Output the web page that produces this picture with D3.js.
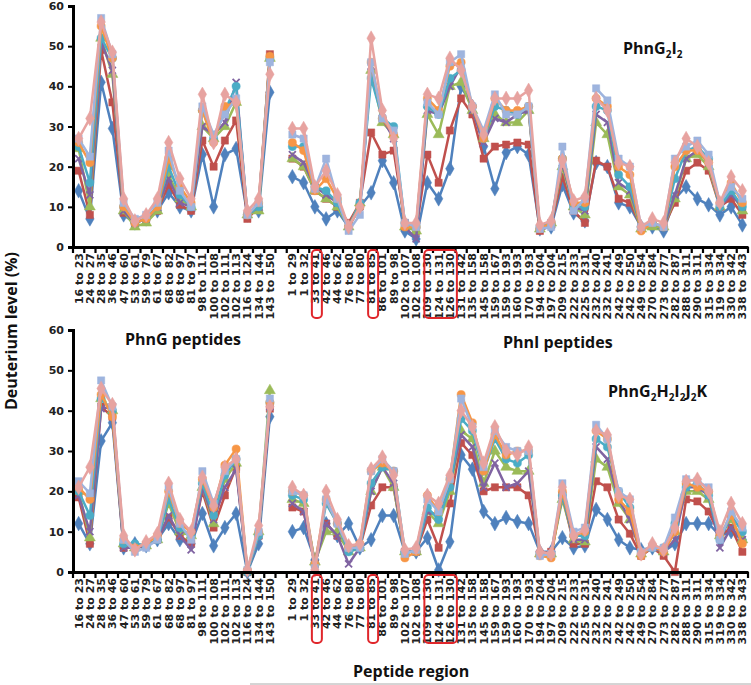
<!DOCTYPE html>
<html>
<head>
<meta charset="utf-8">
<script src="https://cdn.jsdelivr.net/npm/d3@7"></script>
<style>
  html, body { margin: 0; padding: 0; background: #fff; }
  svg { display: block; }
</style>
</head>
<body>
<svg id="chart" width="751" height="685"></svg>
<script>
// ---------------- DATA ----------------
const catsG = ["16 to 23","24 to 27","28 to 35","36 to 46","47 to 60","53 to 61","59 to 79","61 to 67","68 to 82","68 to 97","81 to 97","98 to 111","100 to 108","102 to 111","102 to 113","116 to 124","134 to 144","143 to 150"];
const catsI = ["1 to 29","1 to 32","33 to 41","42 to 46","44 to 62","76 to 80","77 to 80","81 to 85","86 to 101","89 to 98","102 to 107","102 to 108","109 to 130","124 to 131","126 to 130","131 to 142","135 to 158","145 to 158","159 to 167","159 to 193","160 to 193","170 to 193","194 to 204","197 to 204","209 to 215","222 to 233","225 to 231","232 to 240","232 to 241","242 to 249","242 to 250","249 to 254","270 to 284","273 to 277","282 to 287","288 to 311","290 to 311","315 to 334","319 to 334","330 to 342","338 to 343"];
const yTicks = [0, 10, 20, 30, 40, 50, 60];
const highlighted = [["33 to 41"], ["81 to 85"], ["109 to 130","124 to 131","126 to 130"]];

// Top panel: PhnG2I2 (PhnG part, PhnI part)
const topBlueG   = [14, 7, 41, 29.5, 8, 6, 7, 9, 13.5, 10, 9, 23, 10, 23, 24.5, 8, 9, 38.5];
const topRedG    = [19, 8, 49, 36, 8.5, 6, 7, 9, 15.5, 10.5, 9, 26.5, 20, 26.5, 31.5, 7, 10, 48];
const topGreenG  = [24.5, 10, 52, 43, 9, 5, 6, 9, 18, 12, 10, 30, 27, 30, 36, 8, 9, 47];
const topPurpleG = [22, 13, 51, 44, 9, 6, 7, 10, 17, 11, 10, 30, 28, 31, 41, 8, 10, 47];
const topTealG   = [25, 16, 52, 47, 10, 6, 7, 10, 20, 13, 10, 34, 27, 34, 40, 8, 10, 47];
const topOrangeG = [26, 21, 55, 47, 10, 6, 7, 10, 22, 15, 11, 34, 26, 35, 36, 8, 11, 47.5];
const topLBlueG  = [27, 22.5, 57, 48, 11, 7, 8, 11, 24, 14, 10, 35, 28, 33, 37, 8, 11, 46];
const topPinkG   = [27, 32, 56, 48.5, 12, 6.5, 8, 12, 26, 17, 12, 38, 26, 38, 36, 9, 12, 43];

const topBlueI   = [17.5, 16, 10, 7, 9, 5, 10, 13.5, 21.5, 16, 4, 2, 16, 12, 19.5, 40, 35, 25, 14.5, 23.5, 25, 23, 4.5, 5, 15.5, 8.5, 6.5, 21, 20, 11, 10, 5, 5, 4, 12, 15, 12, 10.5, 8, 10, 5.5];
const topRedI    = [22, 20, 14, 12, 10, 6, 11, 28.5, 23, 24, 6, 4, 23, 16, 29, 37, 33, 22, 25, 25.5, 26, 25.5, 4, 5.5, 17.5, 9, 6, 21.5, 20, 12, 11, 5, 5.5, 5, 11, 19, 21, 19, 10, 12, 8];
const topGreenI  = [22, 20, 14, 12, 10, 5, 11, 44, 31, 28, 5, 4, 33, 28, 40, 41, 34, 27, 33, 31, 31, 34, 4.5, 6, 20, 10, 8, 31, 28, 15, 13, 4.5, 5, 5, 12, 22, 23, 20, 10, 14, 9];
const topPurpleI = [23, 21, 15, 13, 11, 5, 10, 45, 32, 27, 5, 2, 34, 33, 40, 45, 34, 26, 32, 31, 33, 34, 4.5, 6, 21, 10, 9, 33, 31, 16, 14, 5, 6, 5, 13, 22, 24, 21, 10, 13, 10];
const topTealI   = [25, 25, 15, 14, 11, 5, 11, 42, 32, 30, 6, 5, 35, 33, 42, 44, 35, 27, 35, 34, 33, 35, 5, 6, 22, 10, 10, 35, 34, 18, 15, 5, 6, 5, 17, 24, 25, 22, 10, 14, 10];
const topOrangeI = [26, 24, 14, 17, 12, 5, 10, 46, 32, 28, 5, 5, 37, 34, 45, 46, 35, 27, 37, 34, 34, 35, 4.5, 6, 22, 11, 11, 37, 35, 20, 18, 4, 6, 5, 20, 24, 24, 21, 11, 16, 11];
const topLBlueI  = [28, 27, 14.5, 22, 12, 4, 8, 46, 32, 29, 6, 5, 36, 33, 46, 48, 35, 29, 38, 33, 33, 35, 4.5, 5, 25, 9, 12, 39.5, 36.5, 22, 20, 5, 6, 5, 22, 25, 26.5, 23, 11, 15, 12];
const topPinkI   = [29.5, 29.5, 15, 19, 13, 5, 10, 52, 34, 27, 6, 6, 38, 37, 47, 44, 35, 28, 37, 37, 37, 39, 5.5, 6.5, 21.5, 11.5, 12.5, 37, 34, 21, 20, 5, 7, 6, 21, 27, 25, 21, 11, 17.5, 14];

// Bottom panel: PhnG2H2I2J2K
const botBlueG   = [12, 7, 32.5, 37, 6, 7, 6.5, 8, 12, 8, 7, 14.5, 6.5, 11, 14.5, 0, 7, 38.5];
const botRedG    = [18.5, 7, 41, 38.5, 6, 6, 6.5, 8, 13.5, 9, 7, 20, 11, 19, 26, 0, 9, 40.5];
const botGreenG  = [20, 8.5, 43, 40, 7, 6, 6.5, 8, 17, 10, 9, 21, 12, 23, 27, 0, 10, 45];
const botPurpleG = [19, 10, 40.5, 41, 6, 6, 6.5, 8, 14, 9, 5.5, 21, 13, 21, 25.5, 0, 9, 41];
const botTealG   = [20, 14, 43, 40, 7, 7, 6.5, 8, 18, 11, 9, 22, 14, 24, 28, 0, 9, 42];
const botOrangeG = [21, 18, 44, 38.5, 8, 6, 7, 9, 20, 12, 10, 23, 16, 26.5, 30.5, 0.5, 10, 42];
const botLBlueG  = [22.5, 19.5, 47.5, 41, 8, 5, 6, 8, 21, 12, 8, 25, 17, 25, 28, 0.5, 10, 43];
const botPinkG   = [21, 26, 45.5, 41.5, 9, 5.5, 7.5, 9.5, 22, 13, 10, 23.5, 16.5, 26, 28, 0.5, 11.5, 41];

const botBlueI   = [10, 11, 3, 12, 9, 12, 6, 8, 14, 14, 5, 5, 8.5, 0.5, 7.5, 29, 25.5, 15, 12, 13.5, 12.5, 12, 5, 5, 8.5, 6, 6.5, 15.5, 13, 8, 6, 5.5, 6, 5, 7, 12, 12, 12, 9, 10, 8];
const botRedI    = [16, 15, 2, 12, 9, 6, 6, 16.5, 21, 21, 5, 5, 13, 6, 17, 32, 29, 20, 21, 21, 21, 19, 4.5, 5, 19, 7, 7, 22.5, 21, 13, 9.5, 4, 6, 4, 0, 18, 17.5, 15, 9, 11, 5];
const botGreenI  = [18, 17, 2.5, 10, 10, 5, 6, 20, 26, 21, 5, 5, 15, 12, 20, 35, 33, 22, 30, 26, 25, 25, 4.5, 4.5, 18, 8, 7.5, 28, 26, 17, 13, 4.5, 6, 5, 10, 20, 20, 18, 9, 13, 8];
const botPurpleI = [17, 15, 2, 12, 9, 2, 6, 20, 26, 22, 5, 5, 15, 14, 22, 34, 31, 21, 27, 21, 22, 25, 4.5, 4.5, 19, 8, 8, 31, 28, 18, 13, 4.5, 6, 5, 8, 21, 21, 19, 6, 11, 8];
const botTealI   = [19, 18, 2, 17, 12, 5, 6, 22, 26, 25, 5, 5, 16, 13, 21, 38, 35, 25, 33, 28, 27, 29, 4.5, 4.5, 19, 9, 9, 33, 31, 20, 16, 5, 6, 6, 12, 21, 22, 19, 8, 14, 10];
const botOrangeI = [20, 19, 2, 18, 12, 6, 7, 25, 27, 25, 3.5, 5, 19, 15, 23, 44, 37, 25, 34, 29, 30, 30, 4, 3.5, 20, 9, 10, 35, 33, 18, 15, 4, 6.5, 5, 10, 22, 21, 20, 9, 14, 7];
const botLBlueI  = [20, 19, 1, 18, 12, 6, 6, 25, 28, 25, 4.5, 5.5, 18, 15, 23, 43, 36, 26, 35, 31, 30, 30, 4, 4.5, 22, 10, 11, 36.5, 33, 20, 18, 5, 6, 6, 13.5, 23, 22.5, 21, 8, 15, 11];
const botPinkI   = [21, 19, 0.5, 20, 13, 6.5, 7, 25.5, 28.5, 24, 5.5, 6, 19, 17, 24, 40, 36, 27, 36, 30, 29, 31, 5, 4.5, 21, 9, 10.5, 35, 34, 19, 18, 4.5, 7, 5.5, 11, 22.5, 23, 20, 10, 17, 12];

// ---------------- SETUP ----------------
const categories = [...catsG, "", ...catsI];
const join = (g, i) => [...g, null, ...i];

const styles = [
  { color: "#4F81BD", marker: "diamond" },
  { color: "#C0504D", marker: "square" },
  { color: "#9BBB59", marker: "triangle" },
  { color: "#8064A2", marker: "x" },
  { color: "#4BACC6", marker: "circle" },
  { color: "#F79646", marker: "circle" },
  { color: "#9EB4DE", marker: "square" },
  { color: "#E7A3A0", marker: "diamond" }
];

const panels = [
  { y0: 247, y1: 6, series: [
      join(topBlueG, topBlueI), join(topRedG, topRedI), join(topGreenG, topGreenI), join(topPurpleG, topPurpleI),
      join(topTealG, topTealI), join(topOrangeG, topOrangeI), join(topLBlueG, topLBlueI), join(topPinkG, topPinkI)] },
  { y0: 572, y1: 330, series: [
      join(botBlueG, botBlueI), join(botRedG, botRedI), join(botGreenG, botGreenI), join(botPurpleG, botPurpleI),
      join(botTealG, botTealI), join(botOrangeG, botOrangeI), join(botLBlueG, botLBlueI), join(botPinkG, botPinkI)] }
];

const svg = d3.select("#chart");
const x = d3.scaleBand().domain(d3.range(categories.length)).range([73, 748]).padding(0);
const bw = x.bandwidth();
const cx = i => x(i) + bw / 2;

const tickFont = "'DejaVu Sans', sans-serif";
const bigFont = "'Open Sans', sans-serif";

function symbolPath(type) {
  if (type === "diamond") return d3.symbol().type(d3.symbolDiamond).size(62)();
  if (type === "square") return d3.symbol().type(d3.symbolSquare).size(52)();
  if (type === "triangle") return d3.symbol().type(d3.symbolTriangle).size(52)();
  if (type === "circle") return d3.symbol().type(d3.symbolCircle).size(52)();
  return "M-3.5,-3.5L3.5,3.5M-3.5,3.5L3.5,-3.5";
}

panels.forEach(p => {
  const y = d3.scaleLinear().domain([0, 60]).range([p.y0, p.y1]);
  const g = svg.append("g");

  // series
  const line = d3.line().defined(d => d != null).x((d, i) => cx(i)).y(d => y(d));
  p.series.forEach((vals, si) => {
    const st = styles[si];
    g.append("path").attr("d", line(vals)).attr("fill", "none")
      .attr("stroke", st.color).attr("stroke-width", 2.5).attr("stroke-linejoin", "round");
    const pts = vals.map((v, i) => ({ v, i })).filter(d => d.v != null);
    const path = symbolPath(st.marker);
    g.selectAll(null).data(pts).enter().append("path")
      .attr("d", path)
      .attr("transform", d => `translate(${cx(d.i)},${y(d.v)})`)
      .attr("fill", st.marker === "x" ? "none" : st.color)
      .attr("stroke", st.color)
      .attr("stroke-width", st.marker === "x" ? 1.8 : 0.5);
  });

  // y axis
  const ya = g.append("g").attr("transform", "translate(73,0)")
    .call(d3.axisLeft(y).tickValues(yTicks).tickSize(5).tickPadding(4));
  ya.select(".domain").attr("stroke", "#000").attr("stroke-width", 3);
  ya.selectAll(".tick line").attr("stroke", "#000").attr("stroke-width", 2);
  ya.selectAll("text").attr("font-family", tickFont).attr("font-weight", "bold")
    .attr("font-size", 11).attr("fill", "#222");

  // x axis (blank separator slot gets no label)
  const realIdx = d3.range(categories.length).filter(i => categories[i] !== "");
  const xa = g.append("g").attr("transform", `translate(0,${p.y0})`)
    .call(d3.axisBottom(x).tickValues(realIdx).tickFormat(i => categories[i]).tickSize(0).tickSizeOuter(0));
  xa.select(".domain").attr("stroke", "#000").attr("stroke-width", 3);
  xa.selectAll("text")
    .attr("font-family", tickFont).attr("font-weight", "bold").attr("font-size", 11).attr("fill", "#222")
    .attr("transform", "rotate(-90)").attr("x", -6).attr("y", 0).attr("dy", "0.36em")
    .style("text-anchor", "end");
  // Excel-style tick marks between categories
  g.selectAll(null).data(d3.range(categories.length + 1)).enter().append("line")
    .attr("x1", i => 73 + i * bw).attr("x2", i => 73 + i * bw)
    .attr("y1", p.y0).attr("y2", p.y0 + 6)
    .attr("stroke", "#000").attr("stroke-width", 2.2);

  // highlight boxes
  highlighted.forEach(group => {
    const idx = group.map(c => categories.indexOf(c));
    const left = cx(d3.min(idx)) - 5 + 2;
    const right = cx(d3.max(idx)) + 5 + 2;
    g.append("rect").attr("x", left).attr("y", p.y0 + 3)
      .attr("width", right - left).attr("height", 68)
      .attr("rx", 4).attr("fill", "none").attr("stroke", "#E0262B").attr("stroke-width", 2);
  });
});

// titles with subscripts
function subText(xp, yp, parts) {
  const t = svg.append("text").attr("x", xp).attr("y", yp)
    .attr("font-family", bigFont).attr("font-weight", "bold").attr("font-size", 16).attr("fill", "#111");
  let shifted = false;
  parts.forEach(([s, sub]) => {
    const ts = t.append("tspan").text(s);
    if (sub) {
      ts.attr("font-size", 10).attr("dy", shifted ? 0 : 4);
      shifted = true;
    } else {
      if (shifted) ts.attr("dy", -4);
      shifted = false;
    }
  });
}
subText(623, 54, [["PhnG"], ["2", true], ["I"], ["2", true]]);
subText(608, 397, [["PhnG"], ["2", true], ["H"], ["2", true], ["I"], ["2", true], ["J"], ["2", true], ["K"]]);

svg.append("text").attr("x", 125).attr("y", 345).attr("font-family", bigFont).attr("font-weight", "bold")
  .attr("font-size", 16).attr("fill", "#111").text("PhnG peptides");
svg.append("text").attr("x", 503).attr("y", 348).attr("font-family", bigFont).attr("font-weight", "bold")
  .attr("font-size", 16).attr("fill", "#111").text("PhnI peptides");
svg.append("text").attr("x", 353).attr("y", 677).attr("font-family", bigFont).attr("font-weight", "bold")
  .attr("font-size", 16).attr("fill", "#111").text("Peptide region");
svg.append("text").attr("transform", "translate(17,331) rotate(-90)").attr("text-anchor", "middle")
  .attr("font-family", bigFont).attr("font-weight", "bold").attr("font-size", 16).attr("fill", "#111")
  .text("Deuterium level (%)");
svg.append("line").attr("x1", 250).attr("x2", 751).attr("y1", 684).attr("y2", 684)
  .attr("stroke", "#aaa").attr("stroke-width", 1);
</script>
</body>
</html>
